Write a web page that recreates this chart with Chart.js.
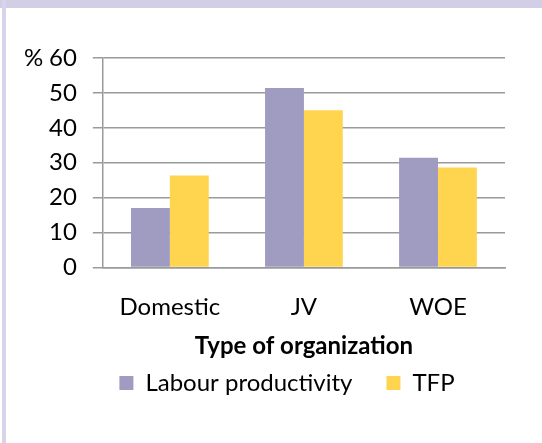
<!DOCTYPE html>
<html lang="en">
  <head>
    <meta charset="UTF-8" />
    <title>Productivity by type of organization</title>
    <script src="https://cdn.jsdelivr.net/npm/chart.js@4.4.1/dist/chart.umd.min.js"></script>
    <style>
      body {
        margin: 0;
        background: #ffffff;
      }
      .frame {
        position: absolute;
        left: 0;
        top: 0;
        width: 542px;
        height: 443px;
        background: #ffffff;
        overflow: hidden;
      }
      .top-strip {
        position: absolute;
        left: 0;
        top: 0;
        width: 542px;
        height: 8px;
        background: #d1cee6;
      }
      .left-strip {
        position: absolute;
        left: 2px;
        top: 0;
        width: 4px;
        height: 443px;
        background: #d6d3ea;
      }
      .chart-box {
        position: absolute;
        left: 0;
        top: 0;
        width: 542px;
        height: 443px;
      }
    </style>
  </head>
  <body>
    <div class="frame">
      <div class="top-strip"></div>
      <div class="left-strip"></div>
      <div class="chart-box">
        <canvas id="orgChart"></canvas>
      </div>
    </div>

    <script>
      const categories = ["Domestic", "JV", "WOE"];
      const labourProductivity = [17, 51.4, 31.4];
      const tfp = [26.3, 45, 28.6];
      const yTicks = [0, 10, 20, 30, 40, 50, 60];

      const fontFamily = "Lato, 'Open Sans', sans-serif";
      const fontSize = 24;

      // draws the "%" unit to the left of the top tick
      const unitLabel = {
        id: "unitLabel",
        afterDraw(chart) {
          const y = chart.scales.y;
          const ctx = chart.ctx;
          ctx.save();
          ctx.font = fontSize + "px " + fontFamily;
          ctx.fillStyle = "#000000";
          ctx.textAlign = "left";
          ctx.textBaseline = "middle";
          ctx.fillText("%", 24, y.getPixelForValue(yTicks[yTicks.length - 1]));
          ctx.restore();
        },
      };

      // nudge the legend a bit right, like the original
      const legendShift = {
        id: "legendShift",
        afterLayout(chart) {
          chart.legend.left += 18;
          chart.legend.right += 18;
        },
      };

      new Chart(document.getElementById("orgChart"), {
        type: "bar",
        data: {
          labels: categories,
          datasets: [
            {
              label: "Labour productivity",
              data: labourProductivity,
              backgroundColor: "#9f9bc1",
              barPercentage: 1,
              categoryPercentage: 0.58,
            },
            {
              label: "TFP",
              data: tfp,
              backgroundColor: "#ffd44f",
              barPercentage: 1,
              categoryPercentage: 0.58,
            },
          ],
        },
        options: {
          responsive: true,
          maintainAspectRatio: false,
          animation: false,
          layout: { padding: { left: 33, right: 37, top: 58, bottom: 38 } },
          plugins: {
            tooltip: { enabled: false },
            legend: {
              position: "bottom",
              labels: {
                color: "#000000",
                font: { family: fontFamily, size: fontSize },
                boxWidth: 14,
                boxHeight: 14,
                padding: 34,
              },
            },
          },
          scales: {
            x: {
              grid: { display: false, drawTicks: false },
              border: { color: "#9a9a9a", width: 1.5 },
              ticks: {
                color: "#000000",
                font: { family: fontFamily, size: fontSize },
                padding: 25,
              },
              title: {
                display: true,
                text: "Type of organization",
                color: "#000000",
                font: { family: fontFamily, size: fontSize, weight: "bold" },
                padding: { top: -14, bottom: -24 },
              },
            },
            y: {
              min: 0,
              max: 60,
              afterBuildTicks(axis) {
                axis.ticks = yTicks.map((v) => ({ value: v }));
              },
              grid: { color: "#9a9a9a", lineWidth: 1.5, tickLength: 10 },
              border: { color: "#9a9a9a", width: 1.5 },
              ticks: {
                color: "#000000",
                font: { family: fontFamily, size: fontSize },
                padding: 16,
              },
            },
          },
        },
        plugins: [unitLabel, legendShift],
      });
    </script>
  </body>
</html>
